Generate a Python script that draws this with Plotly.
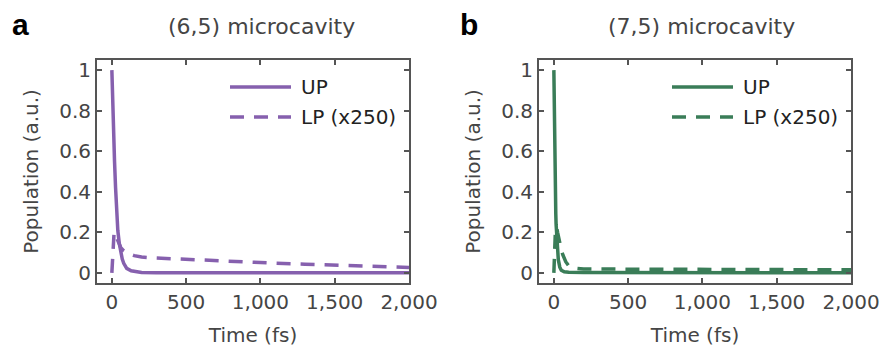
import plotly.graph_objects as go

# ---- data ----
t_up_a = [0, 5, 10, 18, 25, 32, 40, 50, 60, 70, 80, 100, 130, 160, 200, 300, 500, 1000, 1500, 2000]
up_a = [1.0, 0.83, 0.70, 0.55, 0.42, 0.31, 0.21, 0.145, 0.10, 0.068, 0.047, 0.022, 0.010, 0.005, 0.002, 0.0005, 0, 0, 0, 0]

t_lp_a = [0, 5, 10, 15, 20, 30, 40, 60, 80, 100, 150, 200, 300, 500, 700, 900, 1100, 1300, 1500, 1700, 1900, 2000]
lp_a = [0, 0.10, 0.18, 0.20, 0.195, 0.175, 0.155, 0.125, 0.108, 0.098, 0.085, 0.078, 0.073, 0.066, 0.060,
        0.054, 0.048, 0.043, 0.038, 0.034, 0.029, 0.027]

t_up_b = [0, 3, 5, 8, 10, 13, 15, 18, 20, 25, 30, 40, 50, 70, 100, 200, 500, 1000, 1500, 2000]
up_b = [1.0, 0.75, 0.62, 0.47, 0.38, 0.29, 0.24, 0.19, 0.16, 0.10, 0.065, 0.028, 0.013, 0.005, 0.003, 0.002,
        0.001, 0.001, 0.001, 0.001]

t_lp_b = [0, 3, 6, 10, 15, 20, 25, 35, 50, 60, 80, 100, 130, 200, 500, 1000, 1500, 2000]
lp_b = [0, 0.08, 0.15, 0.20, 0.225, 0.22, 0.20, 0.16, 0.115, 0.09, 0.055, 0.035, 0.024, 0.019, 0.018,
        0.017, 0.016, 0.015]

x_ticks = [0, 500, 1000, 1500, 2000]
y_ticks = [0, 0.2, 0.4, 0.6, 0.8, 1]
y_ticktext = ["0", "0.2", "0.4", "0.6", "0.8", "1"]
titles = ["(6,5) microcavity", "(7,5) microcavity"]
panel_labels = ["a", "b"]
legend_names = ["UP", "LP (x250)"]

PURPLE = "#8660AE"
GREEN = "#3A7D58"
TEXT = "#454545"
AXIS = "#555555"
FONT = "DejaVu Sans"
DASH = "14px,10px"
LW = 3.5

W, H = 883, 350
# plot box pixel positions
boxes = [(97, 409), (539, 851)]
y_top, y_bot = 60, 283

fig = go.Figure()

series = [
    (t_up_a, up_a, t_lp_a, lp_a, PURPLE, "x", "y"),
    (t_up_b, up_b, t_lp_b, lp_b, GREEN, "x2", "y2"),
]
for tu, u, tl, l, col, xa, ya in series:
    fig.add_trace(go.Scatter(x=tu, y=u, mode="lines", line=dict(color=col, width=LW),
                             xaxis=xa, yaxis=ya, name=legend_names[0], showlegend=False))
    fig.add_trace(go.Scatter(x=tl, y=l, mode="lines", line=dict(color=col, width=LW, dash=DASH),
                             xaxis=xa, yaxis=ya, name=legend_names[1], showlegend=False))

axis_common = dict(showline=True, linecolor=AXIS, linewidth=2, mirror="allticks",
                   ticks="inside", ticklen=5, tickwidth=1.5, tickcolor=AXIS,
                   showgrid=False, zeroline=False, automargin=False,
                   tickfont=dict(family=FONT, size=20, color=TEXT))

for i, (x0, x1) in enumerate(boxes):
    sfx = "" if i == 0 else str(i + 1)
    fig.update_layout(**{
        "xaxis" + sfx: dict(axis_common, domain=[x0 / W, x1 / W], range=[-100, 2000],
                            tickvals=x_ticks, tickformat=",d",
                            anchor="y" + sfx,
                            title=dict(text="Time (fs)",
                                       font=dict(family=FONT, size=20, color=TEXT))),
        "yaxis" + sfx: dict(axis_common, domain=[1 - y_bot / H, 1 - y_top / H], range=[-0.05, 1.05],
                            tickvals=y_ticks, ticktext=y_ticktext,
                            anchor="x" + sfx,
                            title=dict(text="Population (a.u.)",
                                       font=dict(family=FONT, size=20, color=TEXT))),
    })

annotations = []
shapes = []
colors = [PURPLE, GREEN]
title_cx = [261, 701]
label_x = [10, 458]
legend_x0 = [230, 672]
for i in range(2):
    annotations.append(dict(text=titles[i], x=title_cx[i] / W, y=1 - 26 / H, xref="paper", yref="paper",
                            xanchor="center", yanchor="middle", showarrow=False,
                            font=dict(family=FONT, size=22, color=TEXT)))
    annotations.append(dict(text="<b>%s</b>" % panel_labels[i], x=label_x[i] / W, y=1 - 25 / H,
                            xref="paper", yref="paper", xanchor="left", yanchor="middle",
                            showarrow=False, font=dict(family="Liberation Sans", size=30, color="#000000")))
    for j, yy in enumerate([87, 117]):
        shapes.append(dict(type="line", xref="paper", yref="paper",
                           x0=legend_x0[i] / W, x1=(legend_x0[i] + 61) / W,
                           y0=1 - yy / H, y1=1 - yy / H,
                           line=dict(color=colors[i], width=LW, dash="solid" if j == 0 else DASH)))
        annotations.append(dict(text=legend_names[j], x=(legend_x0[i] + 69) / W, y=1 - yy / H,
                                xref="paper", yref="paper", xanchor="left", yanchor="middle",
                                showarrow=False, font=dict(family=FONT, size=20, color="#222222")))

fig.update_layout(width=W, height=H, margin=dict(l=0, r=0, t=0, b=0),
                  paper_bgcolor="white", plot_bgcolor="white",
                  annotations=annotations, shapes=shapes, showlegend=False)

fig.write_html("out.html")
